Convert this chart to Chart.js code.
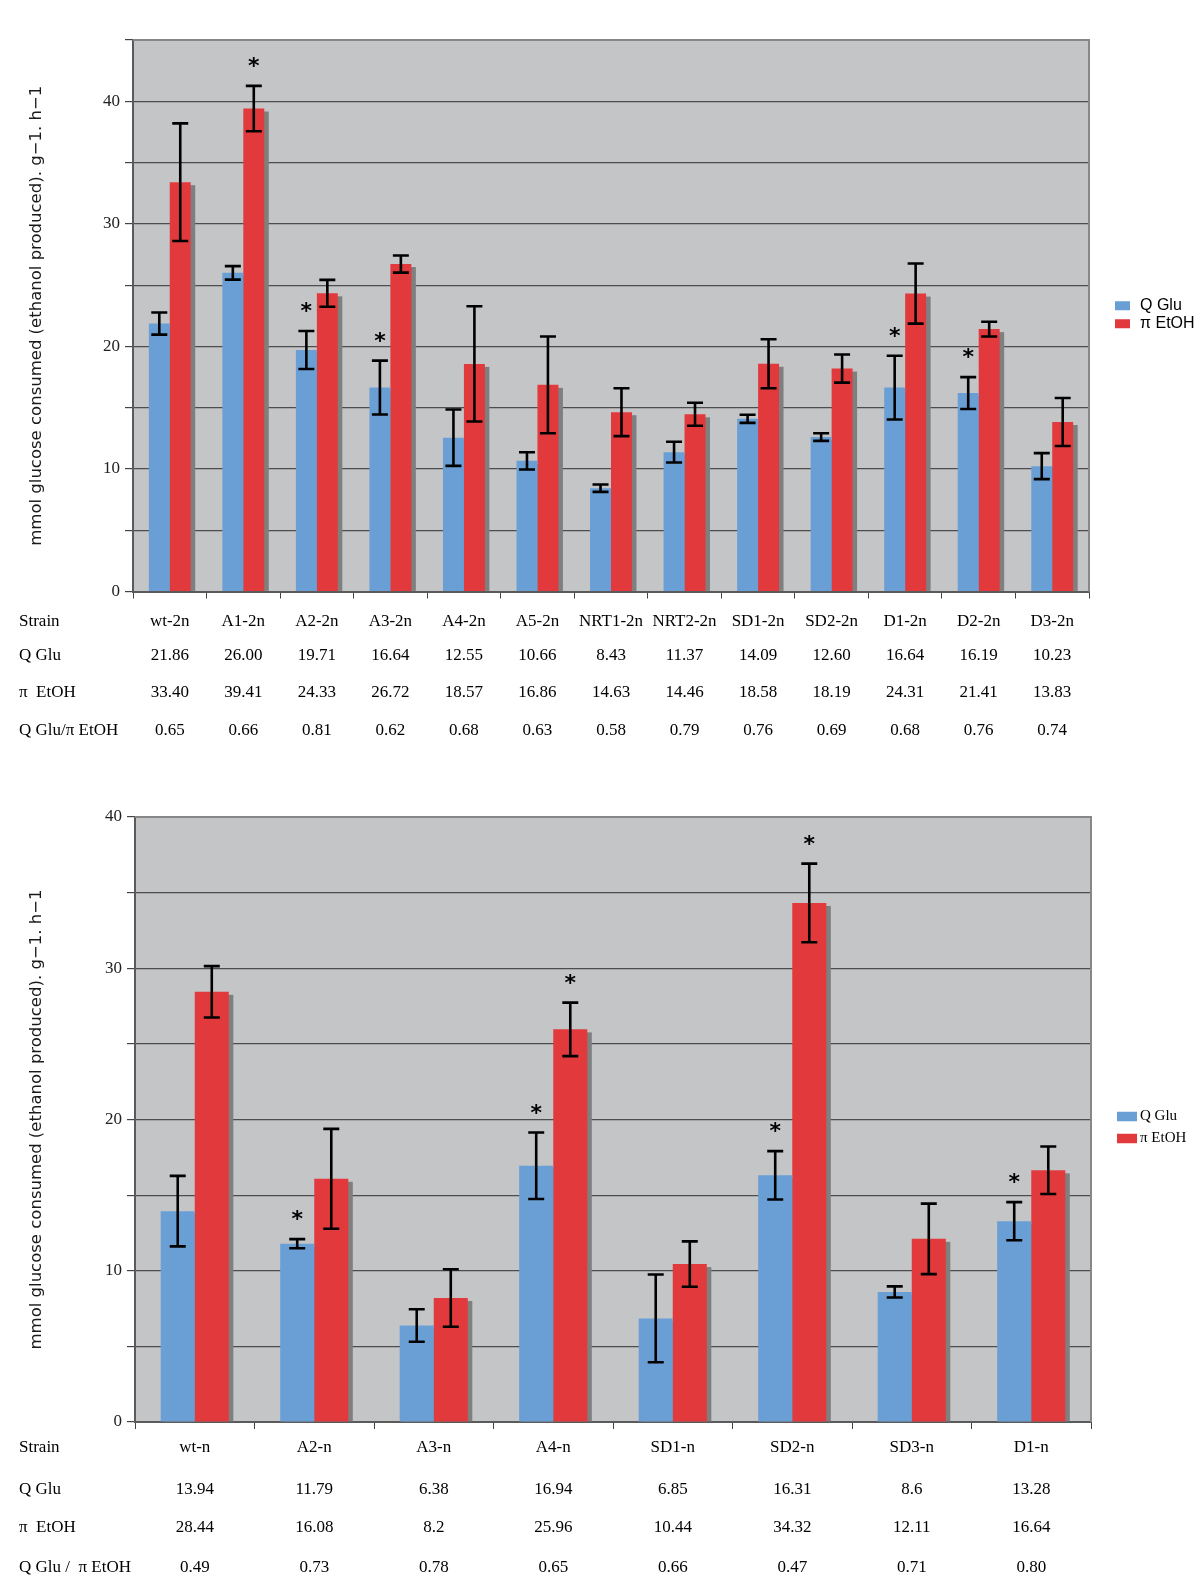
<!DOCTYPE html>
<html>
<head>
<meta charset="utf-8">
<script src="https://cdn.jsdelivr.net/npm/chart.js@4.4.1/dist/chart.umd.min.js"></script>
<style>
  body { margin: 0; background: #fff; }
  .box { position: relative; width: 1200px; }
</style>
</head>
<body>
<div class="box" style="height:760px"><canvas id="diploidChart"></canvas></div>
<div class="box" style="height:819px"><canvas id="haploidChart"></canvas></div>
<script>
// top panel: diploid strains
const strains2n = ["wt-2n", "A1-2n", "A2-2n", "A3-2n", "A4-2n", "A5-2n", "NRT1-2n", "NRT2-2n", "SD1-2n", "SD2-2n", "D1-2n", "D2-2n", "D3-2n"];
const glu2n = [21.86, 26.00, 19.71, 16.64, 12.55, 10.66, 8.43, 11.37, 14.09, 12.60, 16.64, 16.19, 10.23];
const gluErr2n = [0.9, 0.55, 1.55, 2.2, 2.3, 0.7, 0.3, 0.85, 0.33, 0.31, 2.6, 1.3, 1.06];
const etoh2n = [33.40, 39.41, 24.33, 26.72, 18.57, 16.86, 14.63, 14.46, 18.58, 18.19, 24.31, 21.41, 13.83];
const etohErr2n = [4.8, 1.85, 1.1, 0.7, 4.7, 3.95, 1.95, 0.94, 2.0, 1.15, 2.45, 0.6, 1.96];
const ratio2n = [0.65, 0.66, 0.81, 0.62, 0.68, 0.63, 0.58, 0.79, 0.76, 0.69, 0.68, 0.76, 0.74];
const gluStar2n = [0, 0, 1, 1, 0, 0, 0, 0, 0, 0, 1, 1, 0];
const etohStar2n = [0, 1, 0, 0, 0, 0, 0, 0, 0, 0, 0, 0, 0];

// bottom panel: haploid strains
const strainsN = ["wt-n", "A2-n", "A3-n", "A4-n", "SD1-n", "SD2-n", "SD3-n", "D1-n"];
const gluN = [13.94, 11.79, 6.38, 16.94, 6.85, 16.31, 8.6, 13.28];
const gluErrN = [2.33, 0.3, 1.07, 2.2, 2.9, 1.6, 0.37, 1.26];
const etohN = [28.44, 16.08, 8.2, 25.96, 10.44, 34.32, 12.11, 16.64];
const etohErrN = [1.7, 3.3, 1.9, 1.77, 1.5, 2.6, 2.33, 1.57];
const ratioN = [0.49, 0.73, 0.78, 0.65, 0.66, 0.47, 0.71, 0.80];
const gluStarN = [0, 1, 0, 1, 0, 1, 0, 1];
const etohStarN = [0, 0, 0, 1, 0, 1, 0, 0];

const yTicks = [0, 10, 20, 30, 40];
const seriesNames = ["Q Glu", "\u03c0 EtOH"];
const BLUE = "#6a9fd6";
const RED = "#e23a3c";

// plot background, bar shadows, error bars, stars, frame, legend and table
const decor = {
  id: "decor",
  beforeDraw(chart) {
    const { ctx, chartArea: a } = chart;
    ctx.save();
    ctx.fillStyle = "#c4c5c7";
    ctx.fillRect(a.left, a.top, a.right - a.left, a.bottom - a.top);
    ctx.restore();
  },
  beforeDatasetsDraw(chart) {
    const ctx = chart.ctx;
    ctx.save();
    ctx.fillStyle = "#7f7f7f";
    chart.data.datasets.forEach((ds, i) => {
      chart.getDatasetMeta(i).data.forEach((bar) => {
        ctx.fillRect(bar.x - bar.width / 2 + 4.5, bar.y + 3, bar.width, bar.base - bar.y - 3);
      });
    });
    ctx.restore();
  },
  afterDatasetsDraw(chart) {
    const { ctx, chartArea: a } = chart;
    const y = chart.scales.y;
    ctx.save();
    ctx.strokeStyle = "#000";
    ctx.fillStyle = "#000";
    ctx.lineWidth = 2.6;
    ctx.font = "bold 22px 'DejaVu Sans'";
    ctx.textAlign = "center";
    chart.data.datasets.forEach((ds, i) => {
      chart.getDatasetMeta(i).data.forEach((bar, j) => {
        const hi = y.getPixelForValue(ds.data[j] + ds.errors[j]);
        const lo = y.getPixelForValue(ds.data[j] - ds.errors[j]);
        ctx.beginPath();
        ctx.moveTo(bar.x, hi); ctx.lineTo(bar.x, lo);
        ctx.moveTo(bar.x - 8, hi); ctx.lineTo(bar.x + 8, hi);
        ctx.moveTo(bar.x - 8, lo); ctx.lineTo(bar.x + 8, lo);
        ctx.stroke();
        if (ds.stars[j]) ctx.fillText("*", bar.x, hi - 26 + 13);
      });
    });
    // frame on top and right
    ctx.strokeStyle = "#878787";
    ctx.lineWidth = 2;
    ctx.beginPath();
    ctx.moveTo(a.left, a.top);
    ctx.lineTo(a.right, a.top);
    ctx.lineTo(a.right, a.bottom);
    ctx.stroke();
    ctx.restore();
  },
  afterDraw(chart, args, o) {
    const { ctx, chartArea: a } = chart;
    const x = chart.scales.x;
    const lg = o.legend;
    const mid = (a.top + a.bottom) / 2;
    ctx.save();
    ctx.textBaseline = "middle";
    ctx.textAlign = "left";
    chart.data.datasets.forEach((ds, i) => {
      const cy = mid + lg.dy + i * lg.gap;
      ctx.fillStyle = ds.backgroundColor;
      ctx.fillRect(lg.x, cy - lg.boxH / 2, lg.boxW, lg.boxH);
      ctx.fillStyle = "#000";
      ctx.font = lg.font;
      ctx.fillText(ds.label, lg.textX, cy);
    });
    ctx.font = "17px 'Liberation Serif'";
    o.table.forEach((row, r) => {
      const ty = a.bottom + o.rowOffsets[r];
      ctx.textAlign = "left";
      ctx.fillText(row.head, o.headX, ty);
      ctx.textAlign = "center";
      row.cells.forEach((c, j) => ctx.fillText(c, x.getPixelForValue(j), ty));
    });
    ctx.restore();
  }
};

function makeChart(id, cfg) {
  return new Chart(document.getElementById(id), {
    type: "bar",
    data: {
      labels: cfg.labels,
      datasets: [
        { label: seriesNames[0], data: cfg.glu, errors: cfg.gluErr, stars: cfg.gluStar, backgroundColor: BLUE },
        { label: seriesNames[1], data: cfg.etoh, errors: cfg.etohErr, stars: cfg.etohStar, backgroundColor: RED },
      ],
    },
    plugins: [decor],
    options: {
      responsive: true,
      maintainAspectRatio: false,
      animation: false,
      datasets: { bar: { barPercentage: 1, categoryPercentage: 0.57, borderWidth: 0 } },
      layout: { padding: cfg.padding },
      plugins: {
        legend: { display: false },
        tooltip: { enabled: false },
        decor: { legend: cfg.legend, table: cfg.table, rowOffsets: cfg.rowOffsets, headX: 19 },
      },
      scales: {
        x: {
          afterFit: (s) => { s.height = 10; },
          ticks: { display: false },
          grid: { display: true, drawOnChartArea: false, drawTicks: true, tickLength: 7, tickColor: "#444", offset: true },
          border: { color: "#5a5a5a", width: 2 },
        },
        y: {
          min: 0,
          max: cfg.max,
          afterFit: (s) => { s.width = cfg.axisX; },
          ticks: {
            stepSize: 5,
            padding: 5,
            color: "#222",
            font: { family: "'Liberation Serif'", size: 17 },
            callback: (v) => (yTicks.includes(v) ? v : ""),
          },
          grid: { color: "#4d4d4d", lineWidth: 1.2, tickLength: 8, tickColor: "#444" },
          border: { color: "#5a5a5a", width: 2 },
          title: {
            display: true,
            text: "mmol glucose consumed (ethanol produced). g\u22121. h\u22121",
            color: "#1a1a1a",
            font: { family: "'DejaVu Sans'", size: 16.5 },
            padding: { top: 27, bottom: 0 },
          },
        },
      },
    },
  });
}

function tableRows(strains, glu, etoh, ratio, fmt, ratioHead) {
  return [
    { head: "Strain", cells: strains },
    { head: "Q Glu", cells: glu.map(fmt) },
    { head: "\u03c0  EtOH", cells: etoh.map(fmt) },
    { head: ratioHead, cells: ratio.map((v) => v.toFixed(2)) },
  ];
}

makeChart("diploidChart", {
  labels: strains2n, glu: glu2n, gluErr: gluErr2n, gluStar: gluStar2n,
  etoh: etoh2n, etohErr: etohErr2n, etohStar: etohStar2n,
  max: 45, axisX: 133,
  padding: { top: 40, right: 111, bottom: 158.5, left: 0 },
  legend: { x: 1115, textX: 1140, boxW: 15, boxH: 9, dy: -10, gap: 18, font: "16px 'Liberation Sans'" },
  table: tableRows(strains2n, glu2n, etoh2n, ratio2n, (v) => v.toFixed(2), "Q Glu/\u03c0 EtOH"),
  rowOffsets: [30, 64, 101, 139],
});

makeChart("haploidChart", {
  labels: strainsN, glu: gluN, gluErr: gluErrN, gluStar: gluStarN,
  etoh: etohN, etohErr: etohErrN, etohStar: etohStarN,
  max: 40, axisX: 135,
  padding: { top: 57, right: 109, bottom: 147, left: 0 },
  legend: { x: 1117, textX: 1140, boxW: 20, boxH: 9.5, dy: -3, gap: 22, font: "15px 'Liberation Serif'" },
  table: tableRows(strainsN, gluN, etohN, ratioN, (v) => String(v), "Q Glu /  \u03c0 EtOH"),
  rowOffsets: [26, 68, 106, 146],
});
</script>
</body>
</html>
